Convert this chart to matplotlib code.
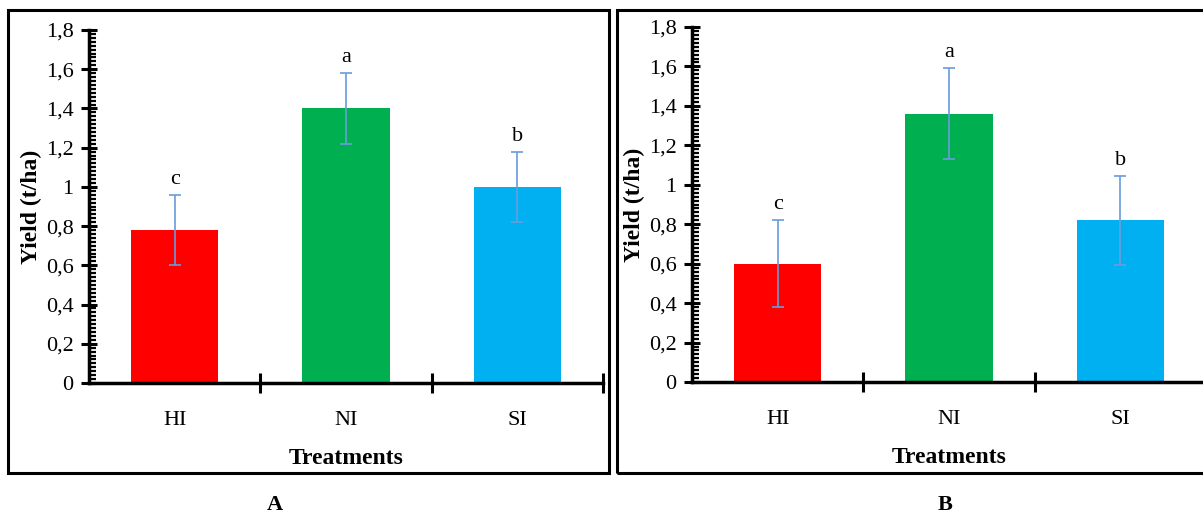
import matplotlib.pyplot as plt
from matplotlib.patches import Rectangle
from matplotlib.ticker import MultipleLocator, FuncFormatter

plt.rcParams['font.family'] = ['Liberation Serif', 'DejaVu Serif']

categories = ['HI', 'NI', 'SI']
colors = ['#FF0000', '#00B050', '#00B0F0']

yield_a = [0.78, 1.40, 1.00]
err_a = [0.18, 0.18, 0.18]
letters_a = ['c', 'a', 'b']

yield_b = [0.60, 1.36, 0.82]
err_b = [0.22, 0.23, 0.225]
letters_b = ['c', 'a', 'b']

fig = plt.figure(figsize=(12.03, 5.13), dpi=100)

# panel frames (pixels -> figure fraction)
W, H = 1203, 513
fig.patches.append(Rectangle((8 / W, 1 - 473 / H), 601 / W, 463 / H, transform=fig.transFigure,
                             fill=False, edgecolor='black', linewidth=2.2))
fig.patches.append(Rectangle((617 / W, 1 - 473 / H), 590 / W, 463 / H, transform=fig.transFigure,
                             fill=False, edgecolor='black', linewidth=2.2))

ax_a = fig.add_axes([89 / W, 1 - 383 / H, (603 - 89) / W, (383 - 30) / H])
ax_b = fig.add_axes([692 / W, 1 - 382 / H, (1206 - 692) / W, (382 - 27) / H])


def comma(v, pos):
    s = f'{v:.1f}'.rstrip('0').rstrip('.')
    return s.replace('.', ',')


def draw(ax, vals, errs, letters, lab_x):
    x = range(len(categories))
    ax.bar(x, vals, width=0.51, color=colors, zorder=2)
    ax.errorbar(x, vals, yerr=errs, fmt='none', ecolor='#6A9CDC', elinewidth=1.2,
                capsize=4, capthick=1.2, zorder=3)
    for i in x:
        ax.text(i, vals[i] + errs[i] + 0.03, letters[i], ha='center', va='bottom', fontsize=16)
    ax.set_xlim(-0.5, 2.5)
    ax.set_ylim(0, 1.8)
    for s in ['top', 'right']:
        ax.spines[s].set_visible(False)
    for s in ['left', 'bottom']:
        ax.spines[s].set_linewidth(2.5)
    ax.yaxis.set_major_locator(MultipleLocator(0.2))
    ax.yaxis.set_minor_locator(MultipleLocator(0.02))
    ax.yaxis.set_major_formatter(FuncFormatter(comma))
    ax.tick_params(axis='y', which='major', direction='inout', length=12, width=2.2,
                   labelsize=16, pad=5)
    ax.tick_params(axis='y', which='minor', direction='in', length=5, width=1.6)
    ax.set_xticks([0, 1, 2])
    ax.set_xticklabels(categories, fontsize=16)
    ax.set_xticks([0.5, 1.5, 2.5], minor=True)
    ax.tick_params(axis='x', which='major', length=0, pad=20)
    ax.tick_params(axis='x', which='minor', direction='inout', length=14, width=2.2)
    ax.set_ylabel('Yield (t/ha)', fontsize=17, fontweight='bold', labelpad=3)
    ax.set_xlabel('Treatments', fontsize=17, fontweight='bold', labelpad=13)
    fig.text(lab_x, 1 - 505 / H, ax_label[ax], ha='center', va='center',
             fontsize=16, fontweight='bold')


ax_label = {ax_a: 'A', ax_b: 'B'}
draw(ax_a, yield_a, err_a, letters_a, 275 / W)
draw(ax_b, yield_b, err_b, letters_b, 945 / W)

fig.savefig('out.png', dpi=100)
